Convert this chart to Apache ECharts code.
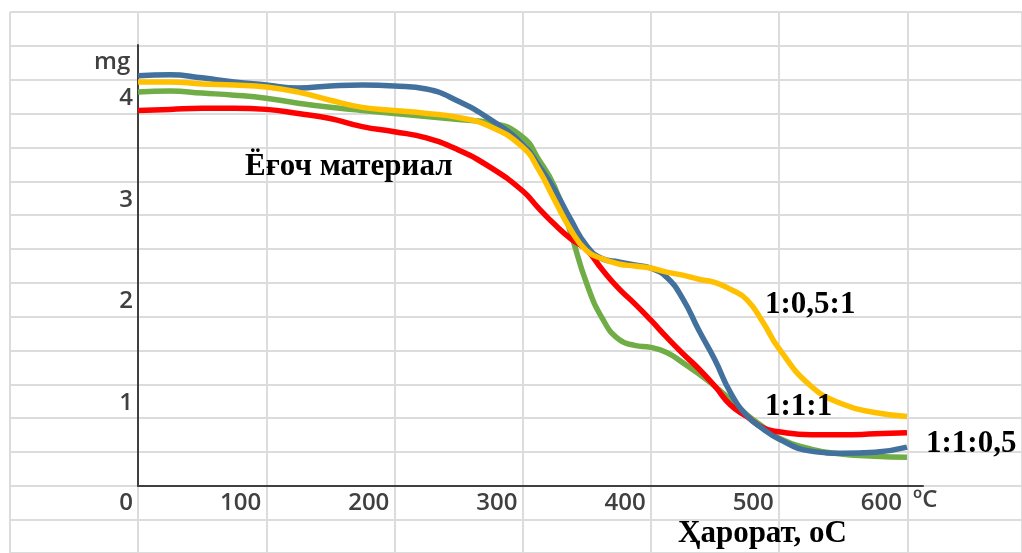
<!DOCTYPE html>
<html>
<head>
<meta charset="utf-8">
<script src="https://cdn.jsdelivr.net/npm/echarts@6/dist/echarts.min.js"></script>
<style>
  html, body { margin: 0; padding: 0; background: #fff; }
  #main { width: 1022px; height: 553px; }
</style>
</head>
<body>
<div id="main"></div>
<script>
// temperature, oC
var temps = [0, 25, 50, 75, 100, 125, 150, 175, 200, 225, 250, 275, 300, 312.5, 325, 337.5, 350, 362.5, 375, 387.5, 400, 412.5, 425, 437.5, 450, 462.5, 475, 487.5, 500, 525, 550, 575, 600];
// mass, mg
var blue = [4.22, 4.23, 4.20, 4.16, 4.13, 4.10, 4.12, 4.13, 4.12, 4.09, 3.97, 3.79, 3.55, 3.34, 3.10, 2.81, 2.55, 2.42, 2.39, 2.36, 2.33, 2.24, 2.03, 1.72, 1.43, 1.10, 0.88, 0.75, 0.65, 0.53, 0.51, 0.52, 0.57];
var yellow = [4.16, 4.16, 4.14, 4.13, 4.11, 4.06, 3.98, 3.91, 3.88, 3.85, 3.81, 3.72, 3.52, 3.30, 3.00, 2.71, 2.50, 2.42, 2.37, 2.35, 2.33, 2.29, 2.26, 2.22, 2.19, 2.12, 2.02, 1.80, 1.54, 1.17, 0.99, 0.91, 0.87];
var green = [4.06, 4.07, 4.05, 4.03, 4.00, 3.95, 3.91, 3.88, 3.85, 3.82, 3.79, 3.76, 3.62, 3.40, 3.13, 2.68, 2.18, 1.83, 1.63, 1.57, 1.55, 1.50, 1.40, 1.29, 1.17, 1.03, 0.89, 0.77, 0.66, 0.55, 0.50, 0.48, 0.47];
var red = [3.88, 3.89, 3.90, 3.90, 3.89, 3.85, 3.80, 3.72, 3.67, 3.61, 3.49, 3.32, 3.09, 2.92, 2.76, 2.62, 2.51, 2.31, 2.13, 1.98, 1.82, 1.65, 1.49, 1.34, 1.17, 0.98, 0.87, 0.76, 0.72, 0.69, 0.69, 0.70, 0.71];

var xTicks = [0, 100, 200, 300, 400, 500, 600];
var yTicks = [1, 2, 3, 4];

function pairs(ys) {
  return temps.map(function (t, i) { return [t, ys[i]]; });
}

function curve(name, color, ys) {
  return {
    name: name,
    type: "line",
    xAxisIndex: 0,
    yAxisIndex: 0,
    smooth: 0.5,
    showSymbol: false,
    lineStyle: { color: color, width: 5.5 },
    data: pairs(ys),
  };
}

var labelFont = { fontFamily: "Open Sans", fontWeight: 600, fontSize: 24, color: "#404040" };
var noteFont = { fontFamily: "Liberation Serif", fontWeight: "bold", fontSize: 31, fill: "#000" };

function note(text, left, top) {
  return { type: "text", left: left, top: top, z: 100, style: Object.assign({ text: text }, noteFont) };
}

var option = {
  animation: false,
  backgroundColor: "#fff",
  grid: [
    { left: 138, right: 99, top: 45, bottom: 67 },
    // spreadsheet cells behind the chart
    { left: 10, right: 0, top: 12, bottom: 0, z: 0 },
  ],
  xAxis: [
    {
      type: "value",
      gridIndex: 0,
      min: 0,
      max: 612.5,
      axisLine: { show: true, lineStyle: { color: "#404040", width: 2 } },
      axisTick: { show: false },
      splitLine: { show: false },
      axisLabel: Object.assign({ customValues: xTicks, align: "right", margin: 5, padding: [0, 5, 0, 0] }, labelFont),
    },
    {
      type: "value",
      gridIndex: 1,
      min: 0,
      max: 1012,
      interval: 128.2,
      axisLine: { show: false },
      axisTick: { show: false },
      axisLabel: { show: false },
      splitLine: { show: true, lineStyle: { color: "#dcdcdc", width: 2 } },
    },
  ],
  yAxis: [
    {
      type: "value",
      gridIndex: 0,
      min: 0.187,
      max: 4.523,
      axisLine: { show: true, lineStyle: { color: "#404040", width: 2 } },
      axisTick: { show: false },
      splitLine: { show: false },
      axisLabel: Object.assign({ customValues: yTicks, margin: 5 }, labelFont),
    },
    {
      type: "value",
      gridIndex: 1,
      inverse: true,
      min: 0,
      max: 541,
      interval: 33.85,
      axisLine: { show: false },
      axisTick: { show: false },
      axisLabel: { show: false },
      splitLine: { show: true, lineStyle: { color: "#dcdcdc", width: 2 } },
    },
  ],
  graphic: [
    { type: "text", left: 94, top: 50, z: 100, style: { text: "mg", font: "600 24px 'Open Sans'", fill: "#404040" } },
    { type: "text", left: 913, top: 488, z: 100, style: { text: "ºC", font: "600 24px 'Open Sans'", fill: "#404040" } },
    note("Ёғоч материал", 245, 151),
    note("1:0,5:1", 765, 289),
    note("1:1:1", 765, 391),
    note("1:1:0,5", 926, 428),
    note("Ҳарорат, оС", 678, 518),
  ],
  series: [
    curve("green", "#70ad47", green),
    curve("red", "#ff0000", red),
    curve("blue", "#41719c", blue),
    curve("yellow", "#ffc000", yellow),
  ],
};

var chart = echarts.init(document.getElementById("main"));
chart.setOption(option);
</script>
</body>
</html>
